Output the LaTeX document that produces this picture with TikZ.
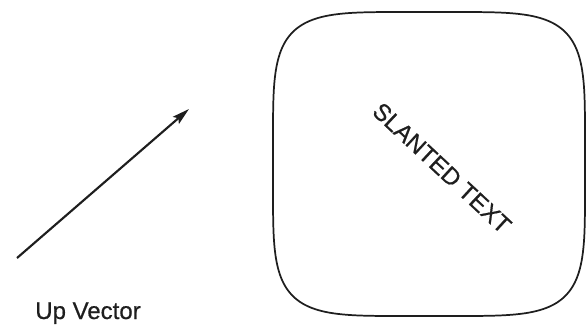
\documentclass[tikz,border=0pt]{standalone}
\usepackage{fontspec}
\setmainfont{Liberation Sans}
\newfontfamily\heavyish[FakeBold=0.6]{Liberation Sans}
\usetikzlibrary{arrows.meta}
\definecolor{ink}{HTML}{1E1E1E}
\tikzset{
  vecline/.style={draw=ink, line width=1.6pt, -{Stealth[length=13pt, width=7pt, inset=2.5pt]}},
  boxline/.style={draw=ink, line width=1.3pt},
  lbl/.style={text=ink, font=\heavyish\fontsize{18}{20}\selectfont, inner sep=0pt}
}
\begin{document}
\begin{tikzpicture}[x=0.75pt, y=-0.75pt]
\useasboundingbox (0,0) rectangle (588,326);
% up vector
\coordinate (vstart) at (17,258);
\coordinate (vend) at (189,109);
\draw[vecline] (vstart) -- (vend);
\node[lbl, anchor=base] (uplabel) at (88,319) {Up Vector};
% screen outline (superellipse)
\draw[boxline] plot[domain=1:361, samples=181, smooth]
  ({429+156*sign(cos(\x))*pow(abs(cos(\x)),0.4)},
   {164-152*sign(sin(\x))*pow(abs(sin(\x)),0.4)}) -- cycle;
% slanted text
\node[lbl, rotate=-43] (slant) at (442,168) {SLANTED TEXT};
\end{tikzpicture}
\end{document}
